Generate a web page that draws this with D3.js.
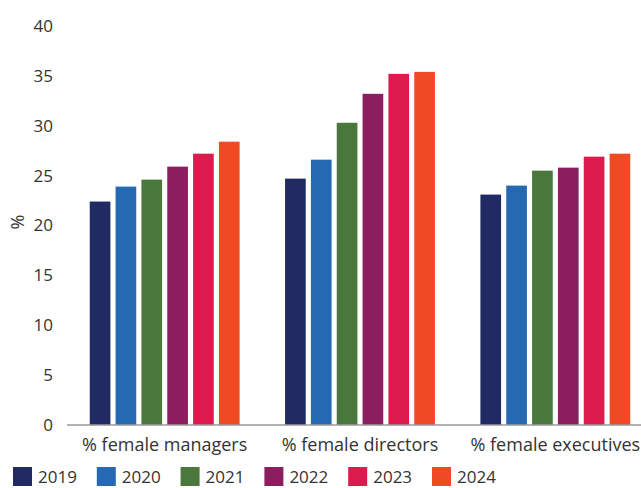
<!DOCTYPE html>
<html>
<head>
<meta charset="utf-8">
<script src="https://cdn.jsdelivr.net/npm/d3@7"></script>
<style>
    body { margin: 0; background: #fff; }
    text { font-family: 'Open Sans', sans-serif; fill: #333; }
    .tick text { font-size: 17px; }
    .cat-label { font-size: 18px; }
    .legend-label { font-size: 17px; }
</style>
</head>
<body>
<div id="vis"></div>
<script>
const categories = ["% female managers", "% female directors", "% female executives"];
const years = ["2019", "2020", "2021", "2022", "2023", "2024"];
const colors = ["#212a62", "#2669b3", "#4a773c", "#8b1e5f", "#dc1a4e", "#ef4a23"];
const yTicks = [0, 5, 10, 15, 20, 25, 30, 35, 40];

// one array per year, in the order of categories
const v2019 = [22.4, 24.7, 23.1];
const v2020 = [23.9, 26.6, 24.0];
const v2021 = [24.6, 30.3, 25.5];
const v2022 = [25.9, 33.2, 25.8];
const v2023 = [27.2, 35.2, 26.9];
const v2024 = [28.4, 35.4, 27.2];
const series = [v2019, v2020, v2021, v2022, v2023, v2024];

const width = 641, height = 488;
const margin = { top: 26, right: -12, bottom: 63, left: 67 };

const svg = d3.select("#vis")
    .append("svg")
    .attr("width", width)
    .attr("height", height);

const x0 = d3.scaleBand()
    .domain(categories)
    .range([margin.left, width - margin.right])
    .padding(0);

const x1 = d3.scaleBand()
    .domain(years)
    .range([0, x0.bandwidth()])
    .paddingInner(0.2)
    .paddingOuter(0.88);

const y = d3.scaleLinear()
    .domain([0, 40])
    .range([height - margin.bottom, margin.top]);

const color = d3.scaleOrdinal().domain(years).range(colors);

// flatten to one record per bar
const bars = [];
categories.forEach((c, i) => {
    years.forEach((yr, j) => {
        bars.push({ cat: c, year: yr, value: series[j][i] });
    });
});

svg.append("g")
    .selectAll("rect")
    .data(bars)
    .join("rect")
    .attr("x", d => x0(d.cat) + x1(d.year))
    .attr("y", d => y(d.value))
    .attr("width", x1.bandwidth())
    .attr("height", d => y(0) - y(d.value))
    .attr("fill", d => color(d.year));

// y axis, labels only
svg.append("g")
    .attr("transform", `translate(${margin.left},0)`)
    .call(d3.axisLeft(y).tickValues(yTicks).tickSize(0).tickPadding(14))
    .call(g => g.select(".domain").remove());

// baseline
svg.append("line")
    .attr("x1", margin.left)
    .attr("x2", width)
    .attr("y1", y(0))
    .attr("y2", y(0))
    .attr("stroke", "#9a9a9a")
    .attr("stroke-width", 1.5);

// category labels
svg.append("g")
    .selectAll("text")
    .data(categories)
    .join("text")
    .attr("class", "cat-label")
    .attr("x", d => x0(d) + x0.bandwidth() / 2)
    .attr("y", 451)
    .attr("text-anchor", "middle")
    .text(d => d);

// y label
svg.append("text")
    .attr("class", "cat-label")
    .attr("text-anchor", "middle")
    .attr("transform", "translate(24,222) rotate(-90)")
    .text("%");

// legend
const legend = svg.append("g")
    .selectAll("g")
    .data(years)
    .join("g")
    .attr("transform", (d, i) => `translate(${13 + i * 83.8},467)`);

legend.append("rect")
    .attr("width", 19)
    .attr("height", 19)
    .attr("fill", d => color(d));

legend.append("text")
    .attr("class", "legend-label")
    .attr("x", 25)
    .attr("y", 16)
    .text(d => d);
</script>
</body>
</html>
